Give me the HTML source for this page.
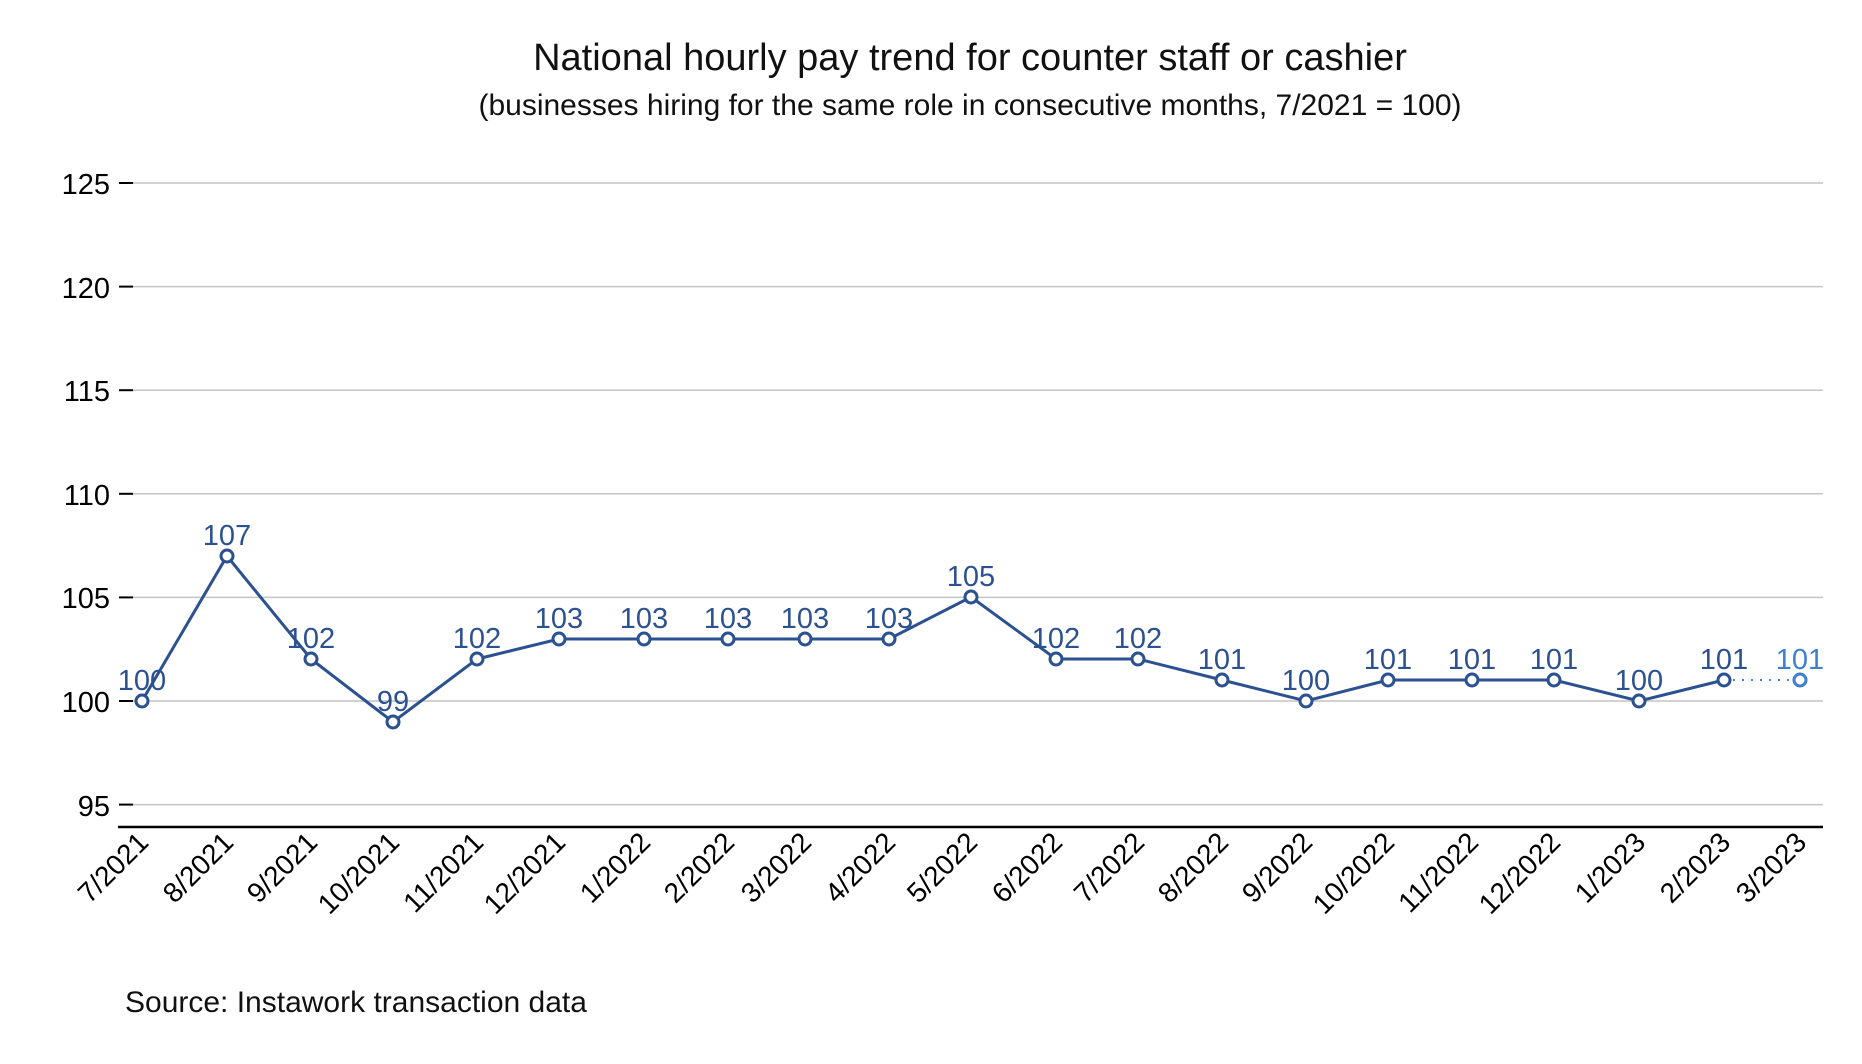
<!DOCTYPE html>
<html><head><meta charset="utf-8"><style>
html,body{margin:0;padding:0;background:#fff;}
svg{display:block;font-family:"Liberation Sans",sans-serif;}
</style></head><body>
<svg width="1862" height="1064" viewBox="0 0 1862 1064" xmlns="http://www.w3.org/2000/svg">
<text x="970" y="70" text-anchor="middle" font-size="38" fill="#111">National hourly pay trend for counter staff or cashier</text>
<text x="970" y="115" text-anchor="middle" font-size="30" fill="#111">(businesses hiring for the same role in consecutive months, 7/2021 = 100)</text>
<g stroke="#c4c4c4" stroke-width="1.5">
<line x1="133" x2="1823" y1="183" y2="183"/><line x1="133" x2="1823" y1="286.6" y2="286.6"/>
<line x1="133" x2="1823" y1="390.2" y2="390.2"/><line x1="133" x2="1823" y1="493.8" y2="493.8"/>
<line x1="133" x2="1823" y1="597.4" y2="597.4"/><line x1="133" x2="1823" y1="701" y2="701"/>
<line x1="133" x2="1823" y1="804.6" y2="804.6"/>
</g>
<g stroke="#000" stroke-width="2">
<line x1="119" x2="133" y1="183" y2="183"/><line x1="119" x2="133" y1="286.6" y2="286.6"/>
<line x1="119" x2="133" y1="390.2" y2="390.2"/><line x1="119" x2="133" y1="493.8" y2="493.8"/>
<line x1="119" x2="133" y1="597.4" y2="597.4"/><line x1="119" x2="133" y1="701" y2="701"/>
<line x1="119" x2="133" y1="804.6" y2="804.6"/>
<line x1="118" x2="1823" y1="827" y2="827" stroke-width="2.5"/>
</g>
<g font-size="29" fill="#000" text-anchor="end">
<text x="110" y="194">125</text><text x="110" y="298">120</text><text x="110" y="401">115</text>
<text x="110" y="505">110</text><text x="110" y="608">105</text><text x="110" y="712">100</text><text x="110" y="816">95</text>
</g>
<polyline fill="none" stroke="#2c5191" stroke-width="3" points="142,701 227,556 311,659 393,722 477,659 559,639 644,639 728,639 805,639 889,639 971,597 1056,659 1138,659 1222,680 1306,701 1388,680 1472,680 1554,680 1639,701 1724,680"/>
<line x1="1724" y1="680" x2="1800" y2="680" stroke="#4a86d0" stroke-width="2" stroke-dasharray="2,7"/>
<g fill="#fff" stroke="#2c5191" stroke-width="3">
<circle cx="142" cy="701" r="6"/><circle cx="227" cy="556" r="6"/><circle cx="311" cy="659" r="6"/><circle cx="393" cy="722" r="6"/><circle cx="477" cy="659" r="6"/><circle cx="559" cy="639" r="6"/><circle cx="644" cy="639" r="6"/><circle cx="728" cy="639" r="6"/><circle cx="805" cy="639" r="6"/><circle cx="889" cy="639" r="6"/><circle cx="971" cy="597" r="6"/><circle cx="1056" cy="659" r="6"/><circle cx="1138" cy="659" r="6"/><circle cx="1222" cy="680" r="6"/><circle cx="1306" cy="701" r="6"/><circle cx="1388" cy="680" r="6"/><circle cx="1472" cy="680" r="6"/><circle cx="1554" cy="680" r="6"/><circle cx="1639" cy="701" r="6"/><circle cx="1724" cy="680" r="6"/>
<circle cx="1800" cy="680" r="6" stroke="#3f7fd0"/>
</g>
<g font-size="29" fill="#2c5191" text-anchor="middle">
<text x="142" y="690">100</text><text x="227" y="545">107</text><text x="311" y="648">102</text><text x="393" y="711">99</text><text x="477" y="648">102</text><text x="559" y="628">103</text><text x="644" y="628">103</text><text x="728" y="628">103</text><text x="805" y="628">103</text><text x="889" y="628">103</text><text x="971" y="586">105</text><text x="1056" y="648">102</text><text x="1138" y="648">102</text><text x="1222" y="669">101</text><text x="1306" y="690">100</text><text x="1388" y="669">101</text><text x="1472" y="669">101</text><text x="1554" y="669">101</text><text x="1639" y="690">100</text><text x="1724" y="669">101</text>
<text x="1800" y="669" fill="#3f7fd0">101</text>
</g>
<g font-size="28" fill="#000" text-anchor="end">
<text transform="translate(150,844) rotate(-45)">7/2021</text>
<text transform="translate(235,844) rotate(-45)">8/2021</text>
<text transform="translate(319,844) rotate(-45)">9/2021</text>
<text transform="translate(401,844) rotate(-45)">10/2021</text>
<text transform="translate(485,844) rotate(-45)">11/2021</text>
<text transform="translate(567,844) rotate(-45)">12/2021</text>
<text transform="translate(652,844) rotate(-45)">1/2022</text>
<text transform="translate(736,844) rotate(-45)">2/2022</text>
<text transform="translate(813,844) rotate(-45)">3/2022</text>
<text transform="translate(897,844) rotate(-45)">4/2022</text>
<text transform="translate(979,844) rotate(-45)">5/2022</text>
<text transform="translate(1064,844) rotate(-45)">6/2022</text>
<text transform="translate(1146,844) rotate(-45)">7/2022</text>
<text transform="translate(1230,844) rotate(-45)">8/2022</text>
<text transform="translate(1314,844) rotate(-45)">9/2022</text>
<text transform="translate(1396,844) rotate(-45)">10/2022</text>
<text transform="translate(1480,844) rotate(-45)">11/2022</text>
<text transform="translate(1562,844) rotate(-45)">12/2022</text>
<text transform="translate(1647,844) rotate(-45)">1/2023</text>
<text transform="translate(1732,844) rotate(-45)">2/2023</text>
<text transform="translate(1808,844) rotate(-45)">3/2023</text>
</g>
<text x="125" y="1012" font-size="30" fill="#111">Source: Instawork transaction data</text>
</svg>
</body></html>
